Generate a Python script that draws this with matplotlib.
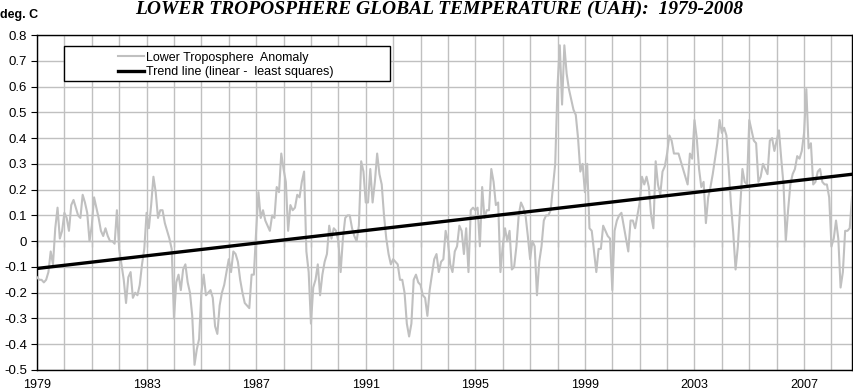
import numpy as np
import matplotlib
matplotlib.use("Agg")
import matplotlib.pyplot as plt
from matplotlib.patches import Rectangle

# monthly lower troposphere anomalies (deg C), Jan 1979 - Oct 2008
y1979 = [-0.14, -0.15, -0.15, -0.16, -0.15, -0.12, -0.04, -0.09, 0.05, 0.13, 0.01, 0.04]
y1980 = [0.11, 0.09, 0.04, 0.14, 0.16, 0.13, 0.10, 0.09, 0.18, 0.15, 0.11, 0.00]
y1981 = [0.06, 0.17, 0.13, 0.09, 0.04, 0.02, 0.05, 0.02, 0.00, 0.00, -0.01, 0.12]
y1982 = [-0.03, -0.09, -0.15, -0.24, -0.14, -0.12, -0.22, -0.20, -0.21, -0.17, -0.09, -0.03]
y1983 = [0.11, 0.05, 0.14, 0.25, 0.19, 0.09, 0.12, 0.12, 0.07, 0.04, 0.01, -0.03]
y1984 = [-0.30, -0.16, -0.13, -0.19, -0.11, -0.09, -0.16, -0.20, -0.29, -0.48, -0.42, -0.38]
y1985 = [-0.20, -0.13, -0.21, -0.20, -0.19, -0.22, -0.33, -0.36, -0.25, -0.20, -0.17, -0.12]
y1986 = [-0.07, -0.12, -0.04, -0.05, -0.08, -0.15, -0.20, -0.24, -0.25, -0.26, -0.13, -0.13]
y1987 = [0.04, 0.19, 0.09, 0.12, 0.08, 0.06, 0.04, 0.10, 0.09, 0.21, 0.19, 0.34]
y1988 = [0.28, 0.23, 0.04, 0.14, 0.12, 0.13, 0.18, 0.17, 0.23, 0.27, -0.04, -0.12]
y1989 = [-0.32, -0.18, -0.15, -0.09, -0.21, -0.13, -0.08, -0.05, 0.06, 0.01, 0.05, 0.04]
y1990 = [0.00, -0.12, 0.01, 0.09, 0.10, 0.10, 0.05, 0.02, 0.00, 0.06, 0.31, 0.27]
y1991 = [0.15, 0.15, 0.28, 0.15, 0.23, 0.34, 0.26, 0.22, 0.10, 0.01, -0.05, -0.09]
y1992 = [-0.07, -0.08, -0.09, -0.15, -0.15, -0.20, -0.32, -0.37, -0.32, -0.15, -0.13, -0.16]
y1993 = [-0.17, -0.21, -0.22, -0.29, -0.19, -0.13, -0.07, -0.05, -0.12, -0.08, -0.07, 0.04]
y1994 = [0.00, -0.09, -0.12, -0.04, -0.02, 0.06, 0.04, -0.05, 0.05, -0.12, 0.12, 0.13]
y1995 = [0.12, 0.13, -0.02, 0.21, 0.09, 0.12, 0.12, 0.28, 0.23, 0.14, 0.15, -0.12]
y1996 = [-0.02, 0.05, 0.00, 0.04, -0.11, -0.10, -0.02, 0.10, 0.15, 0.13, 0.10, 0.02]
y1997 = [-0.07, 0.00, -0.02, -0.21, -0.08, -0.02, 0.08, 0.10, 0.10, 0.12, 0.21, 0.30]
y1998 = [0.60, 0.76, 0.53, 0.76, 0.65, 0.59, 0.55, 0.51, 0.49, 0.40, 0.27, 0.30]
y1999 = [0.19, 0.30, 0.05, 0.04, -0.04, -0.12, -0.03, -0.03, 0.06, 0.04, 0.02, 0.01]
y2000 = [-0.19, 0.04, 0.08, 0.10, 0.11, 0.06, 0.01, -0.04, 0.08, 0.08, 0.05, 0.10]
y2001 = [0.15, 0.25, 0.22, 0.25, 0.21, 0.10, 0.05, 0.31, 0.22, 0.18, 0.27, 0.29]
y2002 = [0.34, 0.41, 0.39, 0.34, 0.34, 0.34, 0.31, 0.28, 0.25, 0.22, 0.34, 0.32]
y2003 = [0.47, 0.40, 0.28, 0.21, 0.23, 0.07, 0.17, 0.21, 0.26, 0.32, 0.38, 0.47]
y2004 = [0.42, 0.44, 0.41, 0.28, 0.14, 0.03, -0.11, -0.02, 0.13, 0.28, 0.23, 0.22]
y2005 = [0.47, 0.43, 0.39, 0.38, 0.23, 0.25, 0.30, 0.28, 0.26, 0.39, 0.40, 0.35]
y2006 = [0.39, 0.43, 0.32, 0.22, 0.00, 0.12, 0.22, 0.26, 0.28, 0.33, 0.32, 0.35]
y2007 = [0.42, 0.59, 0.36, 0.38, 0.22, 0.23, 0.27, 0.28, 0.23, 0.22, 0.22, 0.17]
y2008 = [-0.02, 0.01, 0.08, 0.01, -0.18, -0.12, 0.04, 0.04, 0.05, 0.17]

anom = np.array(y1979 + y1980 + y1981 + y1982 + y1983 + y1984 + y1985 + y1986
                + y1987 + y1988 + y1989 + y1990 + y1991 + y1992 + y1993 + y1994
                + y1995 + y1996 + y1997 + y1998 + y1999 + y2000 + y2001 + y2002
                + y2003 + y2004 + y2005 + y2006 + y2007 + y2008)
t = 1979 + np.arange(len(anom)) / 12.0

# least squares trend
slope, icpt = np.polyfit(t, anom, 1)
trend = slope * t + icpt

year_ticks = list(range(1979, 2009))
year_labels = [str(y) if (y - 1979) % 4 == 0 else "" for y in year_ticks]
y_ticks = np.round(np.arange(-0.5, 0.81, 0.1), 1)
y_labels = ["0" if abs(v) < 1e-9 else f"{v:g}" for v in y_ticks]

plt.rcParams['font.family'] = ['Liberation Sans', 'DejaVu Sans']

W, H = 854, 391
fig = plt.figure(figsize=(W / 100, H / 100), dpi=100)
ax = fig.add_axes([37/W, 21/H, 815/W, 335/H])

l1, = ax.plot(t, anom, color='#c0c0c0', lw=1.5, zorder=3)
l2, = ax.plot(t, trend, color='black', lw=2.4, zorder=4)

ax.set_xlim(t[0], t[-1])
ax.set_ylim(-0.5, 0.8)
ax.set_xticks(year_ticks)
ax.set_xticklabels(year_labels)
ax.set_yticks(y_ticks)
ax.set_yticklabels(y_labels)
ax.tick_params(axis='x', length=0, pad=6.8, labelsize=9)
ax.tick_params(axis='y', length=4, direction='out', pad=3, labelsize=9.5)
ax.grid(True, color='#c0c0c0', lw=1)
ax.set_axisbelow(True)
for s in ax.spines.values():
    s.set_color('black')
    s.set_linewidth(1)

# category axis crossing at zero, with yearly tick marks
zero_ax = ax.secondary_xaxis(0.5 / 1.3)
zero_ax.set_xticks(year_ticks)
zero_ax.set_xticklabels([])
zero_ax.tick_params(axis='x', length=4, direction='out', color='black')
zero_ax.spines['bottom'].set_color('black')
zero_ax.spines['bottom'].set_zorder(5)

# legend box (Excel style: wide left margin)
box = Rectangle((64/W, 1 - 81/H), (390 - 64)/W, 35/H, transform=fig.transFigure,
                facecolor='white', edgecolor='black', lw=1, zorder=6)
ax.add_patch(box)
box.set_clip_on(False)
leg = ax.legend([l1, l2], ['Lower Troposphere  Anomaly', 'Trend line (linear -  least squares)'],
                loc='upper left', bbox_to_anchor=(118/W, 1 - 51.5/H),
                bbox_transform=fig.transFigure, fontsize=9, frameon=False,
                borderpad=0, handlelength=2.1, handletextpad=0.15,
                labelspacing=0.2, borderaxespad=0)
leg.set_zorder(7)

fig.text(439/W, 1 - 13.5/H, 'LOWER TROPOSPHERE GLOBAL TEMPERATURE (UAH):  1979-2008',
         ha='center', va='baseline', family='Liberation Serif', weight='bold',
         style='italic', fontsize=14)
fig.text(0, 1 - 15/H, 'deg. C', ha='left', va='center', weight='bold', fontsize=9)

fig.savefig('out.png', dpi=100)
